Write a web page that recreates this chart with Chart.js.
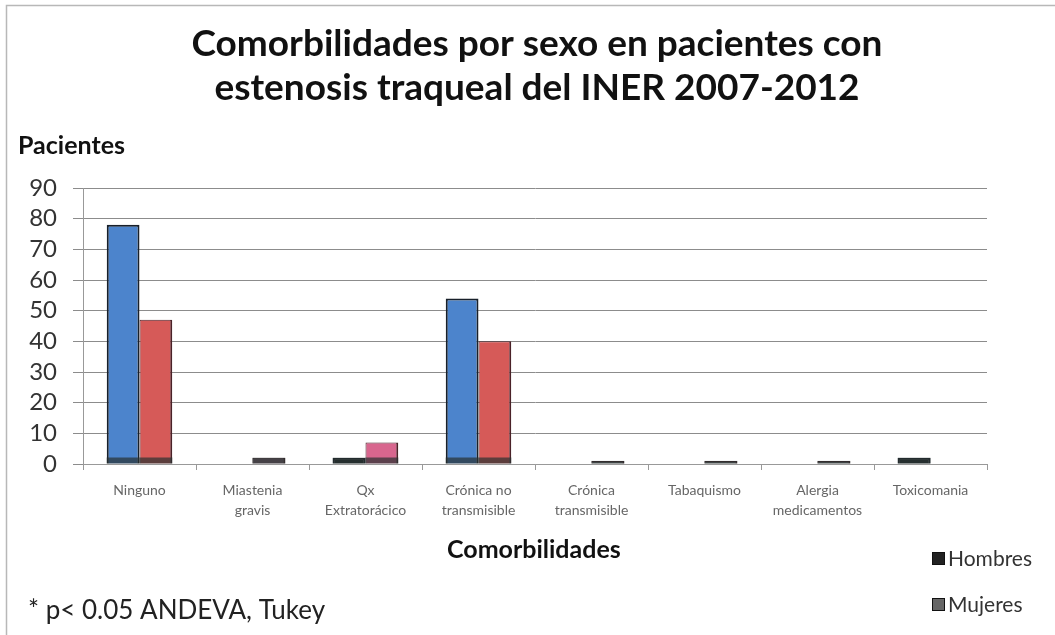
<!DOCTYPE html>
<html>
<head>
<meta charset="utf-8">
<title>Comorbilidades por sexo</title>
<script src="https://cdn.jsdelivr.net/npm/chart.js@4.4.1/dist/chart.umd.min.js"></script>
<style>
  html, body { margin: 0; padding: 0; background: #fff; }
  #wrap { width: 1055px; height: 635px; position: relative; }
</style>
</head>
<body>
<div id="wrap"><canvas id="chart" width="1055" height="635"></canvas></div>
<script>
const categories = [
  ['Ninguno'],
  ['Miastenia', 'gravis'],
  ['Qx', 'Extratorácico'],
  ['Crónica no', 'transmisible'],
  ['Crónica', 'transmisible'],
  ['Tabaquismo'],
  ['Alergia', 'medicamentos'],
  ['Toxicomania']
];
const hombres = [78, 0, 2, 54, 0, 0, 0, 2];
const mujeres = [47, 2, 7, 40, 1, 1, 1, 0];
const yTicks = [0, 10, 20, 30, 40, 50, 60, 70, 80, 90];

// each bar keeps the fill it had in the original spreadsheet
const hombresFill = ['#4c84cc', '#1f2a2a', '#1f2a2a', '#4c84cc', '#1f2a2a', '#1f2a2a', '#1f2a2a', '#1f2a2a'];
const mujeresFill = ['#d65a58', '#8a6a78', '#d8668e', '#d65a58', '#777777', '#777777', '#777777', '#777777'];

const FONT = 'Lato, "Open Sans", sans-serif';

// dark floor strip at the foot of every bar
const barBase = {
  id: 'barBase',
  afterDatasetsDraw(chart) {
    const ctx = chart.ctx;
    ctx.save();
    chart.data.datasets.forEach((ds, i) => {
      chart.getDatasetMeta(i).data.forEach((el, j) => {
        if (!ds.data[j]) return;
        const h = Math.min(6, el.base - el.y);
        ctx.fillStyle = 'rgba(40,48,48,0.7)';
        ctx.fillRect(el.x - el.width / 2, el.base - h, el.width, h);
      });
    });
    ctx.restore();
  }
};

// titles, axis captions, legend and footnote
const texts = {
  id: 'texts',
  afterDraw(chart) {
    const ctx = chart.ctx;
    ctx.save();
    ctx.strokeStyle = '#b8b8b8';
    ctx.lineWidth = 1.5;
    ctx.strokeRect(6.5, 5.5, 1060, 640);

    ctx.fillStyle = '#111';
    ctx.textAlign = 'center';
    ctx.textBaseline = 'middle';
    ctx.font = 'bold 37px ' + FONT;
    ctx.fillText('Comorbilidades por sexo en pacientes con', 537, 44);
    ctx.fillText('estenosis traqueal del INER 2007-2012', 537, 88);

    ctx.font = 'bold 25px ' + FONT;
    ctx.textAlign = 'left';
    ctx.fillText('Pacientes', 18, 146);
    ctx.fillText('Comorbilidades', 447, 550);

    ctx.font = '26px ' + FONT;
    ctx.fillStyle = '#222';
    ctx.fillText('* p< 0.05 ANDEVA, Tukey', 28, 611);

    const legend = [['Hombres', '#222'], ['Mujeres', '#666']];
    ctx.font = '21px ' + FONT;
    legend.forEach(([name, col], k) => {
      const y = 559 + k * 46;
      ctx.fillStyle = col;
      ctx.fillRect(932, y - 7, 13, 13);
      ctx.strokeStyle = '#111';
      ctx.lineWidth = 1;
      ctx.strokeRect(932.5, y - 6.5, 12, 12);
      ctx.fillStyle = '#333';
      ctx.fillText(name, 948, y);
    });
    ctx.restore();
  }
};

new Chart(document.getElementById('chart'), {
  type: 'bar',
  data: {
    labels: categories,
    datasets: [
      { label: 'Hombres', data: hombres, backgroundColor: hombresFill,
        borderColor: '#18202a', borderWidth: { left: 2, right: 2, top: 2, bottom: 0 } },
      { label: 'Mujeres', data: mujeres, backgroundColor: mujeresFill,
        borderColor: '#4a2228', borderWidth: { left: 1, right: 2, top: 1, bottom: 0 } }
    ]
  },
  options: {
    responsive: false,
    animation: false,
    layout: { padding: { left: 0, right: 68, top: 188, bottom: 111 } },
    datasets: { bar: { categoryPercentage: 0.58, barPercentage: 1 } },
    plugins: { legend: { display: false }, title: { display: false }, tooltip: { enabled: false } },
    scales: {
      x: {
        afterFit: s => { s.height = 60; },
        grid: { offset: true, drawOnChartArea: false, color: '#999', tickLength: 6 },
        border: { color: '#999' },
        ticks: { color: '#666', font: { family: FONT, size: 14, lineHeight: 1.45 }, padding: 10, maxRotation: 0, autoSkip: false }
      },
      y: {
        min: 0, max: 90,
        afterFit: s => { s.width = 83; },
        afterBuildTicks: s => { s.ticks = yTicks.map(v => ({ value: v })); },
        grid: { color: '#8c8c8c', tickLength: 10 },
        border: { color: '#999' },
        ticks: { color: '#333', font: { family: FONT, size: 24 }, padding: 16, autoSkip: false }
      }
    }
  },
  plugins: [barBase, texts]
});
</script>
</body>
</html>
